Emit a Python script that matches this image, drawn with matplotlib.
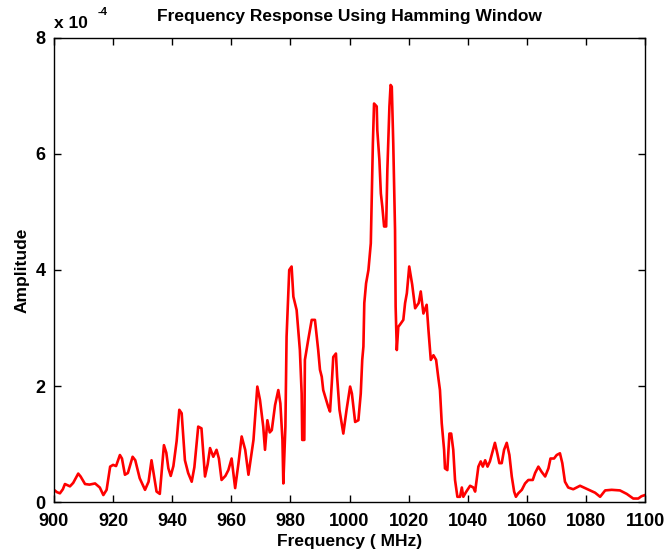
import matplotlib
matplotlib.use("Agg")
import matplotlib.pyplot as plt
from matplotlib.ticker import FuncFormatter

plt.rcParams['font.family'] = ['Liberation Sans', 'DejaVu Sans']
plt.rcParams['font.weight'] = 'bold'

# spectrum samples: frequency in MHz, amplitude in units of 1e-4
freq = [
    900.0, 901.0, 902.0, 903.0, 903.7, 905.4, 906.5, 908.2, 909.0, 910.5,
    912.0, 913.9, 915.5, 916.7, 917.8, 919.0, 920.0, 921.0, 922.3, 923.0,
    924.0, 925.0, 926.6, 927.5, 929.0, 930.0, 930.8, 932.0, 933.0, 934.0,
    934.7, 935.8, 937.2, 938.0, 938.7, 939.5, 940.4, 941.5, 942.4, 943.2,
    944.3, 945.4, 946.6, 947.5, 948.8, 949.9, 951.1, 952.0, 952.8, 953.9,
    955.0, 955.8, 956.7, 958.0, 959.0, 960.1, 961.3, 962.4, 963.5, 964.7,
    965.8, 967.5, 968.8, 969.7, 970.8, 971.4, 972.2, 973.0, 973.7, 974.8,
    975.9, 976.6, 977.3, 977.6, 978.3, 978.7, 979.6, 980.4, 981.0, 982.1,
    983.2, 983.8, 984.0, 984.7, 984.9, 986.0, 987.2, 988.3, 989.4, 990.0,
    990.6, 991.1, 992.8, 993.4, 994.0, 994.5, 995.4, 995.8, 996.6, 997.9,
    999.0, 1000.2, 1000.8, 1001.9, 1003.0, 1003.8, 1004.3, 1004.7, 1005.0, 1005.6,
    1006.4, 1007.2, 1007.5, 1007.9, 1008.3, 1009.2, 1009.4, 1010.1, 1010.6, 1011.1,
    1011.7, 1012.4, 1012.8, 1013.5, 1013.9, 1014.3, 1014.8, 1015.4, 1015.6, 1016.0,
    1016.5, 1017.1, 1018.2, 1018.8, 1019.4, 1020.2, 1021.2, 1022.2, 1023.4, 1024.1,
    1025.0, 1026.1, 1026.7, 1027.5, 1028.4, 1029.3, 1030.0, 1030.6, 1031.2, 1032.0,
    1032.3, 1033.1, 1033.8, 1034.4, 1035.1, 1035.7, 1036.5, 1037.4, 1038.0, 1038.5,
    1039.4, 1040.8, 1041.9, 1042.5, 1043.6, 1044.4, 1045.1, 1045.9, 1046.7, 1047.5,
    1048.4, 1049.2, 1050.0, 1050.7, 1051.5, 1052.3, 1053.2, 1054.1, 1054.9, 1055.7,
    1056.3, 1057.1, 1058.3, 1059.4, 1060.5, 1062.0, 1062.8, 1063.9, 1065.0, 1066.2,
    1067.3, 1068.0, 1069.2, 1070.1, 1071.2, 1072.0, 1072.9, 1074.0, 1075.7, 1078.0,
    1079.7, 1081.4, 1083.1, 1084.8, 1086.5, 1088.7, 1091.5, 1093.8, 1096.0, 1097.7,
    1098.8, 1100.0,
]
amp_e4 = [
    0.21, 0.17, 0.15, 0.22, 0.31, 0.27, 0.33, 0.49, 0.44, 0.31,
    0.30, 0.32, 0.25, 0.12, 0.21, 0.61, 0.64, 0.62, 0.81, 0.75,
    0.47, 0.50, 0.78, 0.72, 0.41, 0.30, 0.21, 0.35, 0.72, 0.40,
    0.18, 0.14, 0.98, 0.85, 0.58, 0.45, 0.62, 1.05, 1.59, 1.53,
    0.72, 0.50, 0.35, 0.60, 1.30, 1.27, 0.44, 0.65, 0.93, 0.78,
    0.90, 0.75, 0.38, 0.45, 0.55, 0.75, 0.24, 0.66, 1.13, 0.90,
    0.47, 1.07, 1.99, 1.76, 1.30, 0.90, 1.41, 1.20, 1.24, 1.67,
    1.93, 1.70, 1.07, 0.32, 1.30, 2.85, 4.00, 4.06, 3.54, 3.31,
    2.62, 1.87, 1.07, 1.07, 2.45, 2.79, 3.14, 3.14, 2.62, 2.28,
    2.16, 1.93, 1.64, 1.56, 2.05, 2.50, 2.56, 2.16, 1.59, 1.18,
    1.59, 1.99, 1.87, 1.38, 1.41, 1.87, 2.45, 2.68, 3.43, 3.77,
    4.00, 4.46, 5.21, 6.18, 6.87, 6.82, 6.41, 5.90, 5.32, 5.09,
    4.75, 4.75, 5.72, 6.82, 7.19, 7.16, 6.18, 4.69, 3.37, 2.62,
    3.02, 3.06, 3.14, 3.43, 3.60, 4.06, 3.75, 3.34, 3.43, 3.63,
    3.25, 3.40, 2.97, 2.45, 2.53, 2.45, 2.16, 1.93, 1.36, 0.90,
    0.58, 0.55, 1.18, 1.18, 0.90, 0.38, 0.09, 0.09, 0.25, 0.09,
    0.17, 0.28, 0.25, 0.18, 0.61, 0.70, 0.61, 0.72, 0.61, 0.70,
    0.87, 1.02, 0.84, 0.67, 0.67, 0.90, 1.02, 0.81, 0.44, 0.18,
    0.09, 0.15, 0.21, 0.32, 0.38, 0.38, 0.50, 0.61, 0.52, 0.44,
    0.58, 0.75, 0.75, 0.81, 0.84, 0.67, 0.35, 0.25, 0.22, 0.28,
    0.24, 0.20, 0.16, 0.09, 0.20, 0.21, 0.20, 0.14, 0.06, 0.06,
    0.10, 0.12,
]
amp = [a * 1e-4 for a in amp_e4]

xticks = [900, 920, 940, 960, 980, 1000, 1020, 1040, 1060, 1080, 1100]
yticks = [0, 2e-4, 4e-4, 6e-4, 8e-4]

fig = plt.figure(figsize=(6.65, 5.56), dpi=100)
ax = fig.add_axes([0.0812, 0.0971, 0.8888, 0.8346])

ax.plot(freq, amp, color='#ff0000', linewidth=1.9)

ax.set_xlim(900, 1100)
ax.set_ylim(0, 8e-4)
ax.set_xticks(xticks)
ax.set_yticks(yticks)
ax.yaxis.set_major_formatter(FuncFormatter(lambda v, p: f"{v * 1e4:g}"))

ax.tick_params(direction='in', length=5, width=1, top=True, right=True,
               labelsize=13)
ax.tick_params(axis='x', pad=8)
ax.tick_params(axis='y', pad=6)
for lbl in ax.get_xticklabels() + ax.get_yticklabels():
    lbl.set_fontweight('bold')
for s in ax.spines.values():
    s.set_linewidth(1)

ax.set_title('Frequency Response Using Hamming Window', fontsize=12.5,
             fontweight='bold', pad=12)
ax.set_xlabel('Frequency ( MHz)', fontsize=12.5, fontweight='bold', labelpad=3)
ax.set_ylabel('Amplitude', fontsize=12.5, fontweight='bold', labelpad=4)

# exponent label above the y axis
ax.text(0.0, 1.015, 'x 10', transform=ax.transAxes, fontsize=12.5,
        fontweight='bold', ha='left', va='bottom')
ax.text(0.073, 1.045, '-4', transform=ax.transAxes, fontsize=8,
        fontweight='bold', ha='left', va='bottom')

fig.savefig('out.png', dpi=100)
